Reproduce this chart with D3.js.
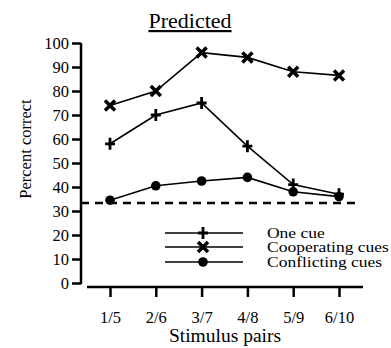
<!DOCTYPE html>
<html>
<head>
<meta charset="utf-8">
<script src="https://cdn.jsdelivr.net/npm/d3@7"></script>
<style>
  body { margin: 0; background: #fff; }
  svg { display: block; font-family: "Liberation Serif", "DejaVu Serif", serif; }
</style>
</head>
<body>
<svg width="391" height="348"></svg>
<script>
var pairs = ['1/5', '2/6', '3/7', '4/8', '5/9', '6/10']
var oneCue = [58, 70, 75, 57, 41, 37]
var cooperating = [74, 80, 96, 94, 88, 86.5]
var conflicting = [34.5, 40.5, 42.5, 44, 38, 36]
var chance = 33.3
var yTicks = [0, 10, 20, 30, 40, 50, 60, 70, 80, 90, 100]

var series = [
  {name: 'One cue', values: oneCue, mark: 'plus'},
  {name: 'Cooperating cues', values: cooperating, mark: 'cross'},
  {name: 'Conflicting cues', values: conflicting, mark: 'dot'}
]

var svg = d3.select('svg')

var x = d3.scalePoint().domain(pairs).range([110, 339])
var y = d3.scaleLinear().domain([0, 100]).range([283, 43])

// y axis
var yAxis = svg.append('g')
  .attr('transform', 'translate(81,0)')
  .call(d3.axisLeft(y).tickValues(yTicks).tickSize(9).tickPadding(3))
yAxis.select('.domain').attr('d', 'M0,' + y(100) + 'V' + (y(0) + 1)).attr('stroke-width', 2.5)
yAxis.selectAll('.tick line').attr('stroke-width', 2.5)
yAxis.selectAll('.tick text').attr('font-size', 16.5).attr('fill', '#000')
  .attr('font-family', 'Liberation Serif').attr('dy', '0.36em')

// x axis
var xAxis = svg.append('g')
  .attr('transform', 'translate(0,287)')
  .call(d3.axisBottom(x).tickSize(10).tickPadding(14))
xAxis.select('.domain').attr('d', 'M87,0H363').attr('stroke-width', 2.5)
xAxis.selectAll('.tick line').attr('stroke-width', 2.5)
xAxis.selectAll('.tick text').attr('font-size', 16.5).attr('fill', '#000')
  .attr('font-family', 'Liberation Serif')

// chance level
svg.append('line')
  .attr('x1', 81).attr('x2', 358)
  .attr('y1', y(chance)).attr('y2', y(chance))
  .attr('stroke', '#000').attr('stroke-width', 2.5)
  .attr('stroke-dasharray', '8,6')

var line = d3.line().x((d, i) => x(pairs[i])).y(d => y(d))

function drawMark(g, type){
  if (type == 'plus'){
    g.append('path').attr('d', 'M-5,0H5M0,-6V6')
      .attr('stroke', '#000').attr('stroke-width', 2.8)
  } else if (type == 'cross'){
    g.append('path').attr('d', 'M-5,-5L5,5M5,-5L-5,5')
      .attr('stroke', '#000').attr('stroke-width', 3.5)
  } else {
    g.append('circle').attr('r', 4.8).attr('fill', '#000')
  }
}

series.forEach(function(s){
  svg.append('path')
    .attr('d', line(s.values))
    .attr('fill', 'none').attr('stroke', '#000').attr('stroke-width', 1.6)
  s.values.forEach(function(v, i){
    var g = svg.append('g').attr('transform', 'translate(' + x(pairs[i]) + ',' + y(v) + ')')
    drawMark(g, s.mark)
  })
})

// legend
var legendY = [233, 247, 262]
series.forEach(function(s, i){
  var g = svg.append('g').attr('transform', 'translate(0,' + legendY[i] + ')')
  g.append('line').attr('x1', 165).attr('x2', 243)
    .attr('stroke', '#000').attr('stroke-width', 1.6)
  drawMark(g.append('g').attr('transform', 'translate(203,0)'), s.mark)
  g.append('text').attr('transform', 'translate(267,4.5) scale(1.25,1)')
    .attr('font-size', 14).text(s.name)
})

// titles
svg.append('text').attr('x', 190).attr('y', 28).attr('text-anchor', 'middle')
  .attr('font-size', 22).attr('text-decoration', 'underline').text('Predicted')

svg.append('text').attr('x', 225).attr('y', 342).attr('text-anchor', 'middle')
  .attr('font-size', 19.5).text('Stimulus pairs')

svg.append('text')
  .attr('transform', 'translate(31,149) rotate(-90)')
  .attr('text-anchor', 'middle')
  .attr('font-size', 16.5).text('Percent correct')
</script>
</body>
</html>
